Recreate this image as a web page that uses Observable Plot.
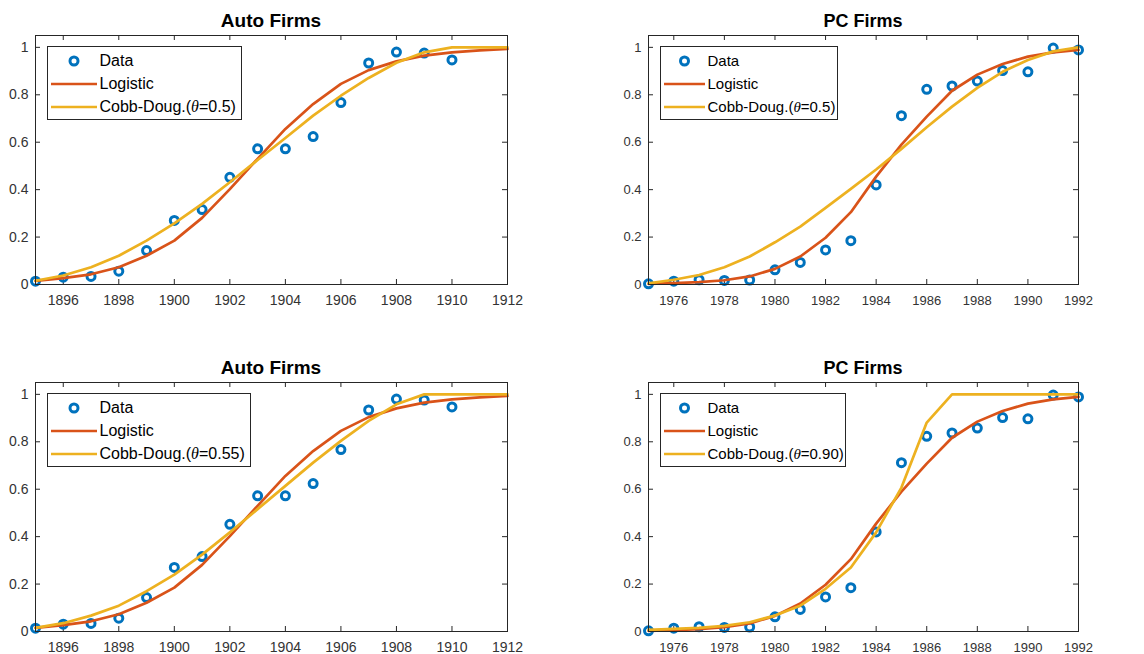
<!DOCTYPE html>
<html>
<head>
<meta charset="utf-8">
<script src="https://cdn.jsdelivr.net/npm/d3@7"></script>
<script src="https://cdn.jsdelivr.net/npm/@observablehq/plot@0.6"></script>
<style>
  html, body { margin: 0; padding: 0; background: #fff; overflow: hidden; }
  #root { position: relative; width: 1144px; height: 654px; font-family: "Liberation Sans", Arial, sans-serif; }
  .panel { position: absolute; }
  .title { position: absolute; text-align: center; font-weight: bold; line-height: 18px; color: #000; white-space: nowrap; }
  .legend { position: absolute; background: #fff; border: 1px solid #262626; box-sizing: border-box; }
  .legend .row { position: absolute; left: 0; height: 20px; white-space: nowrap; color: #000; }
  .legend .row svg { position: absolute; top: 0; }
  .legend .row span { position: absolute; top: 0; line-height: 20px; }
  .legend i { font-family: "Liberation Serif", "Times New Roman", serif; }
</style>
</head>
<body>
<div id="root"></div>
<script>
// ---- data ----
const autoYears = [1895, 1896, 1897, 1898, 1899, 1900, 1901, 1902, 1903, 1904, 1905, 1906, 1907, 1908, 1909, 1910, 1911, 1912];
const autoData = [0.014, 0.031, 0.034, 0.056, 0.143, 0.270, 0.316, 0.452, 0.572, 0.572, 0.624, 0.767, 0.934, 0.980, 0.976, 0.947];
const autoLogistic = [0.015, 0.027, 0.043, 0.073, 0.121, 0.185, 0.281, 0.402, 0.530, 0.656, 0.761, 0.846, 0.904, 0.941, 0.965, 0.979, 0.987, 0.993];
const autoCobb050 = [0.016, 0.038, 0.073, 0.121, 0.185, 0.258, 0.340, 0.431, 0.525, 0.618, 0.712, 0.796, 0.871, 0.935, 0.979, 1.0, 1.0, 1.0];
const autoCobb055 = [0.015, 0.035, 0.067, 0.109, 0.170, 0.240, 0.324, 0.418, 0.516, 0.614, 0.712, 0.804, 0.888, 0.958, 1.0, 1.0, 1.0, 1.0];

const pcYears = [1975, 1976, 1977, 1978, 1979, 1980, 1981, 1982, 1983, 1984, 1985, 1986, 1987, 1988, 1989, 1990, 1991, 1992];
const pcData = [0.003, 0.014, 0.020, 0.017, 0.019, 0.062, 0.093, 0.146, 0.185, 0.420, 0.712, 0.823, 0.837, 0.858, 0.902, 0.897, 0.997, 0.989];
const pcLogistic = [0.003, 0.006, 0.010, 0.018, 0.034, 0.066, 0.118, 0.197, 0.305, 0.455, 0.590, 0.708, 0.817, 0.885, 0.930, 0.961, 0.979, 0.989];
const pcCobb050 = [0.005, 0.020, 0.040, 0.073, 0.118, 0.178, 0.244, 0.323, 0.403, 0.485, 0.572, 0.663, 0.750, 0.829, 0.897, 0.947, 0.983, 1.0];
const pcCobb090 = [0.007, 0.011, 0.015, 0.024, 0.039, 0.067, 0.109, 0.180, 0.270, 0.418, 0.607, 0.881, 1.0, 1.0, 1.0, 1.0, 1.0, 1.0];

const autoTicks = [1896, 1898, 1900, 1902, 1904, 1906, 1908, 1910, 1912];
const pcTicks = [1976, 1978, 1980, 1982, 1984, 1986, 1988, 1990, 1992];
const yTicks = [0, 0.2, 0.4, 0.6, 0.8, 1];
const yLabels = ["0", "0.2", "0.4", "0.6", "0.8", "1"];

const seriesNames = ["Data", "Logistic", "Cobb-Doug."];
const colors = {data: "#0072BD", logistic: "#D95319", cobb: "#EDB120"};

// ---- drawing ----
const root = document.getElementById("root");
const H = 307, MT = 35, MB = 23;
const frameH = H - MT - MB;

function rows(xs, ys) { return ys.map((y, i) => ({x: xs[i], y})); }

function panel({title, titleSize, years, data, logistic, cobb, theta, ticks, left, top, width, marginLeft, marginRight, fontSize, legendW, legendFont, swatchW, textX}) {
  const frameW = width - marginLeft - marginRight;
  const fmtY = d => yLabels[yTicks.indexOf(d)];
  const plot = Plot.plot({
    width, height: H, marginLeft, marginRight, marginTop: MT, marginBottom: MB,
    x: {domain: [years[0], years[years.length - 1]], label: null},
    y: {domain: [0, 1.05], label: null},
    style: {fontFamily: '"Liberation Sans", Arial, sans-serif', fontSize: fontSize + "px", color: "#262626", background: "transparent", overflow: "visible"},
    marks: [
      Plot.tickX(ticks, {x: d => d, insetTop: frameH - 5, stroke: "#262626"}),
      Plot.tickX(ticks, {x: d => d, insetBottom: frameH - 5, stroke: "#262626"}),
      Plot.tickY(yTicks, {y: d => d, insetRight: frameW - 5, stroke: "#262626"}),
      Plot.tickY(yTicks, {y: d => d, insetLeft: frameW - 5, stroke: "#262626"}),
      Plot.axisX(ticks, {tickSize: 0, tickPadding: 11, tickFormat: d => String(d), fill: "#333", label: null}),
      Plot.axisY(yTicks, {tickSize: 0, tickPadding: 7, tickFormat: fmtY, fill: "#333", label: null}),
      Plot.dot(rows(years, data), {x: "x", y: "y", r: 4, stroke: colors.data, strokeWidth: 3, fill: "none"}),
      Plot.line(rows(years, logistic), {x: "x", y: "y", stroke: colors.logistic, strokeWidth: 2.7}),
      Plot.line(rows(years, cobb), {x: "x", y: "y", stroke: colors.cobb, strokeWidth: 2.7}),
      Plot.frame({stroke: "#262626", strokeWidth: 1})
    ]
  });
  const div = document.createElement("div");
  div.className = "panel";
  div.style.left = left + "px";
  div.style.top = top + "px";
  div.appendChild(plot);
  root.appendChild(div);

  const t = document.createElement("div");
  t.className = "title";
  t.textContent = title;
  t.style.fontSize = titleSize + "px";
  t.style.left = (left + marginLeft) + "px";
  t.style.width = frameW + "px";
  t.style.top = (top + 12) + "px";
  root.appendChild(t);

  // legend
  const lg = document.createElement("div");
  lg.className = "legend";
  lg.style.left = (left + marginLeft + 11.5) + "px";
  lg.style.top = (top + MT + 11) + "px";
  lg.style.width = legendW + "px";
  lg.style.height = "74px";
  lg.style.fontSize = legendFont + "px";
  const labels = [seriesNames[0], seriesNames[1], `${seriesNames[2]}(<i>θ</i>=${theta})`];
  const centers = [15, 38, 60.5];
  labels.forEach((lab, i) => {
    const r = document.createElement("div");
    r.className = "row";
    r.style.top = (centers[i] - 10 - 1) + "px";
    let sw;
    if (i === 0) sw = `<svg width="${swatchW + 6}" height="20" style="left:3px"><circle cx="${(swatchW) / 2}" cy="10" r="4" fill="none" stroke="${colors.data}" stroke-width="3"/></svg>`;
    else sw = `<svg width="${swatchW + 6}" height="20" style="left:3px"><line x1="0" x2="${swatchW}" y1="10" y2="10" stroke="${i === 1 ? colors.logistic : colors.cobb}" stroke-width="2.7"/></svg>`;
    r.innerHTML = sw + `<span style="left:${textX}px">${lab}</span>`;
    lg.appendChild(r);
  });
  root.appendChild(lg);
}

panel({title: "Auto Firms", titleSize: 19, years: autoYears, data: autoData, logistic: autoLogistic, cobb: autoCobb050, theta: "0.5",
  ticks: autoTicks, left: 0, top: 0, width: 527, marginLeft: 35, marginRight: 20, fontSize: 14,
  legendW: 195, legendFont: 16, swatchW: 46, textX: 52});
panel({title: "PC Firms", titleSize: 18, years: pcYears, data: pcData, logistic: pcLogistic, cobb: pcCobb050, theta: "0.5",
  ticks: pcTicks, left: 612, top: 0, width: 497, marginLeft: 36, marginRight: 31, fontSize: 13,
  legendW: 178, legendFont: 15, swatchW: 41, textX: 47});
panel({title: "Auto Firms", titleSize: 19, years: autoYears, data: autoData, logistic: autoLogistic, cobb: autoCobb055, theta: "0.55",
  ticks: autoTicks, left: 0, top: 347, width: 527, marginLeft: 35, marginRight: 20, fontSize: 14,
  legendW: 204, legendFont: 16, swatchW: 46, textX: 52});
panel({title: "PC Firms", titleSize: 18, years: pcYears, data: pcData, logistic: pcLogistic, cobb: pcCobb090, theta: "0.90",
  ticks: pcTicks, left: 612, top: 347, width: 497, marginLeft: 36, marginRight: 31, fontSize: 13,
  legendW: 186, legendFont: 15, swatchW: 41, textX: 47});
</script>
</body>
</html>
